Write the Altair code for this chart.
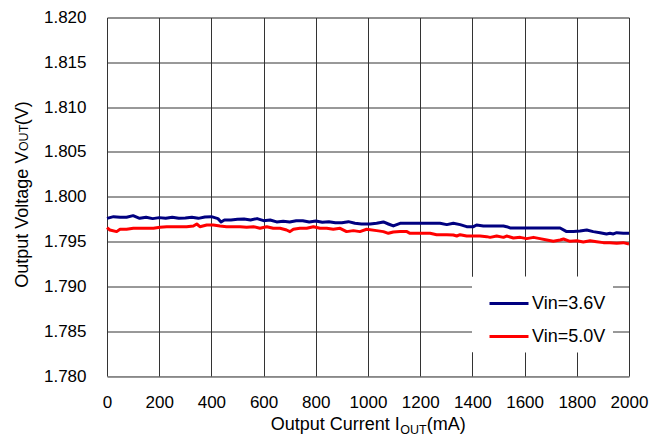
import altair as alt
import pandas as pd

# ---- data ----
series_names = ["Vin=3.6V", "Vin=5.0V"]
series_colors = ["#000080", "#FF0000"]

i_36 = [0, 25, 50, 75, 100, 125, 150, 175, 200, 225, 250, 275, 300, 325, 350, 375, 400, 425, 437, 450,
        475, 500, 525, 550, 575, 600, 625, 650, 675, 700, 725, 750, 775, 800, 825, 850, 875, 900, 925, 950,
        975, 1008, 1033, 1059, 1078, 1097, 1123, 1161, 1199, 1238, 1276, 1302, 1327, 1353, 1378, 1404, 1416,
        1442, 1468, 1493, 1519, 1531, 1544, 1570, 1608, 1646, 1697, 1736, 1761, 1787, 1812, 1838, 1863,
        1889, 1914, 1927, 1940, 1953, 1978, 2000]
v_36 = [1.79759, 1.79778, 1.79771, 1.79771, 1.79789, 1.79759, 1.79771, 1.79756, 1.79767, 1.79759,
        1.79771, 1.79759, 1.79763, 1.79771, 1.79759, 1.79774, 1.79778, 1.79756, 1.79719, 1.79741,
        1.79741, 1.79748, 1.79752, 1.79741, 1.79756, 1.79733, 1.79741, 1.79719, 1.79726, 1.79719,
        1.79733, 1.79733, 1.79719, 1.79730, 1.79715, 1.79722, 1.79711, 1.79711, 1.79722, 1.79704,
        1.79696, 1.79696, 1.79704, 1.79719, 1.79696, 1.79674, 1.79704, 1.79704, 1.79704, 1.79704,
        1.79704, 1.79689, 1.79704, 1.79689, 1.79666, 1.79666, 1.79685, 1.79674, 1.79674, 1.79674,
        1.79674, 1.79666, 1.79652, 1.79652, 1.79652, 1.79652, 1.79652, 1.79652, 1.79611, 1.79611,
        1.79618, 1.79629, 1.79611, 1.79599, 1.79585, 1.79592, 1.79585, 1.79599, 1.79592, 1.79592]

i_50 = [0, 11, 37, 50, 75, 101, 126, 152, 178, 203, 229, 254, 280, 305, 331, 344, 356, 382, 407, 433,
        458, 484, 510, 535, 561, 586, 612, 637, 663, 688, 701, 714, 739, 765, 791, 816, 842, 867, 893, 918,
        944, 969, 995, 1033, 1059, 1078, 1097, 1123, 1149, 1161, 1199, 1238, 1263, 1302, 1327, 1340, 1353,
        1378, 1404, 1429, 1455, 1468, 1493, 1519, 1531, 1557, 1583, 1608, 1634, 1659, 1685, 1710, 1736,
        1749, 1774, 1800, 1825, 1851, 1876, 1902, 1927, 1953, 1978, 2000]
v_50 = [1.79655, 1.79629, 1.79611, 1.79637, 1.79637, 1.79648, 1.79648, 1.79648, 1.79648, 1.79659,
        1.79666, 1.79666, 1.79666, 1.79666, 1.79674, 1.79696, 1.79666, 1.79685, 1.79685, 1.79674,
        1.79666, 1.79666, 1.79666, 1.79659, 1.79666, 1.79648, 1.79666, 1.79648, 1.79648, 1.79629,
        1.79611, 1.79637, 1.79648, 1.79648, 1.79666, 1.79648, 1.79648, 1.79637, 1.79648, 1.79611,
        1.79622, 1.79611, 1.79637, 1.79622, 1.79611, 1.79592, 1.79607, 1.79611, 1.79611, 1.79592,
        1.79592, 1.79592, 1.79577, 1.79577, 1.79573, 1.79562, 1.79577, 1.79562, 1.79562, 1.79562,
        1.79555, 1.79547, 1.79562, 1.79547, 1.79562, 1.79540, 1.79547, 1.79533, 1.79547, 1.79533,
        1.79518, 1.79503, 1.79518, 1.79529, 1.79503, 1.79510, 1.79495, 1.79510, 1.79499, 1.79488,
        1.79488, 1.79480, 1.79488, 1.79473]

x_ticks = [0, 200, 400, 600, 800, 1000, 1200, 1400, 1600, 1800, 2000]
y_ticks = [1.780, 1.785, 1.790, 1.795, 1.800, 1.805, 1.810, 1.815, 1.820]

df = pd.concat([
    pd.DataFrame({"current": i_36, "voltage": v_36, "series": series_names[0]}),
    pd.DataFrame({"current": i_50, "voltage": v_50, "series": series_names[1]}),
], ignore_index=True)

FONT = "Liberation Sans"
W, H = 522, 358.5

lines = alt.Chart(df).mark_line(strokeWidth=3, strokeJoin="round").encode(
    x=alt.X("current:Q", scale=alt.Scale(domain=[0, 2000], nice=False),
            axis=alt.Axis(values=x_ticks, format="d", title=None, labelFlush=False,
                          labelOverlap=False, labelPadding=18, tickSize=0, domain=False,
                          grid=True, gridColor="#333333", gridWidth=1,
                          labelFont=FONT, labelFontSize=17, labelColor="#000000")),
    y=alt.Y("voltage:Q", scale=alt.Scale(domain=[1.780, 1.820], nice=False, zero=False),
            axis=alt.Axis(values=y_ticks, format=".3f", title=None, labelPadding=21,
                          tickSize=0, domain=False, grid=True, gridColor="#333333", gridWidth=1,
                          labelFont=FONT, labelFontSize=17, labelColor="#000000", labelOverlap=False)),
    color=alt.Color("series:N",
                    scale=alt.Scale(domain=series_names, range=series_colors),
                    legend=alt.Legend(title=None, orient="none", legendX=365, legendY=259,
                                      symbolType="stroke", symbolSize=1521, symbolStrokeWidth=3,
                                      symbolOffset=10, labelOffset=2, rowPadding=3, padding=6,
                                      fillColor="#FFFFFF", strokeColor="#FFFFFF",
                                      labelFont=FONT, labelFontSize=18, labelColor="#000000",
                                      labelExpr="datum.label + '  '")),
    detail="series:N",
)

def txt(text, x, y, size, align, angle=0):
    return alt.Chart(alt.Data(values=[{"t": text}])).mark_text(
        text=text, font=FONT, fontSize=size, align=align, baseline="alphabetic",
        angle=angle, color="#000000"
    ).encode(x=alt.value(x), y=alt.value(y))

titles = [
    # x-axis title: Output Current I_OUT(mA)
    txt("Output Current I", 292.8, 412.5, 18, "right"),
    txt("OUT", 293.3, 416, 12.5, "left"),
    txt("(mA)", 319.7, 412.5, 18, "left"),
    # y-axis title: Output Voltage VOUT(V)
    txt("Output Voltage V", -79, 134.1, 18, "right", angle=270),
    txt("OUT", -79, 133.6, 12.5, "left", angle=270),
    txt("(V)", -79, 107.7, 18, "left", angle=270),
]

chart = alt.layer(lines, *titles).properties(
    width=W, height=H,
    autosize=alt.AutoSizeParams(type="none"),
    padding={"left": 99, "top": 9.5, "right": 25, "bottom": 61},
).configure_view(
    stroke="#000000", strokeWidth=1.5
).configure(background="#FFFFFF")

chart.save("out.html", embed_options={"renderer": "svg", "actions": False})
